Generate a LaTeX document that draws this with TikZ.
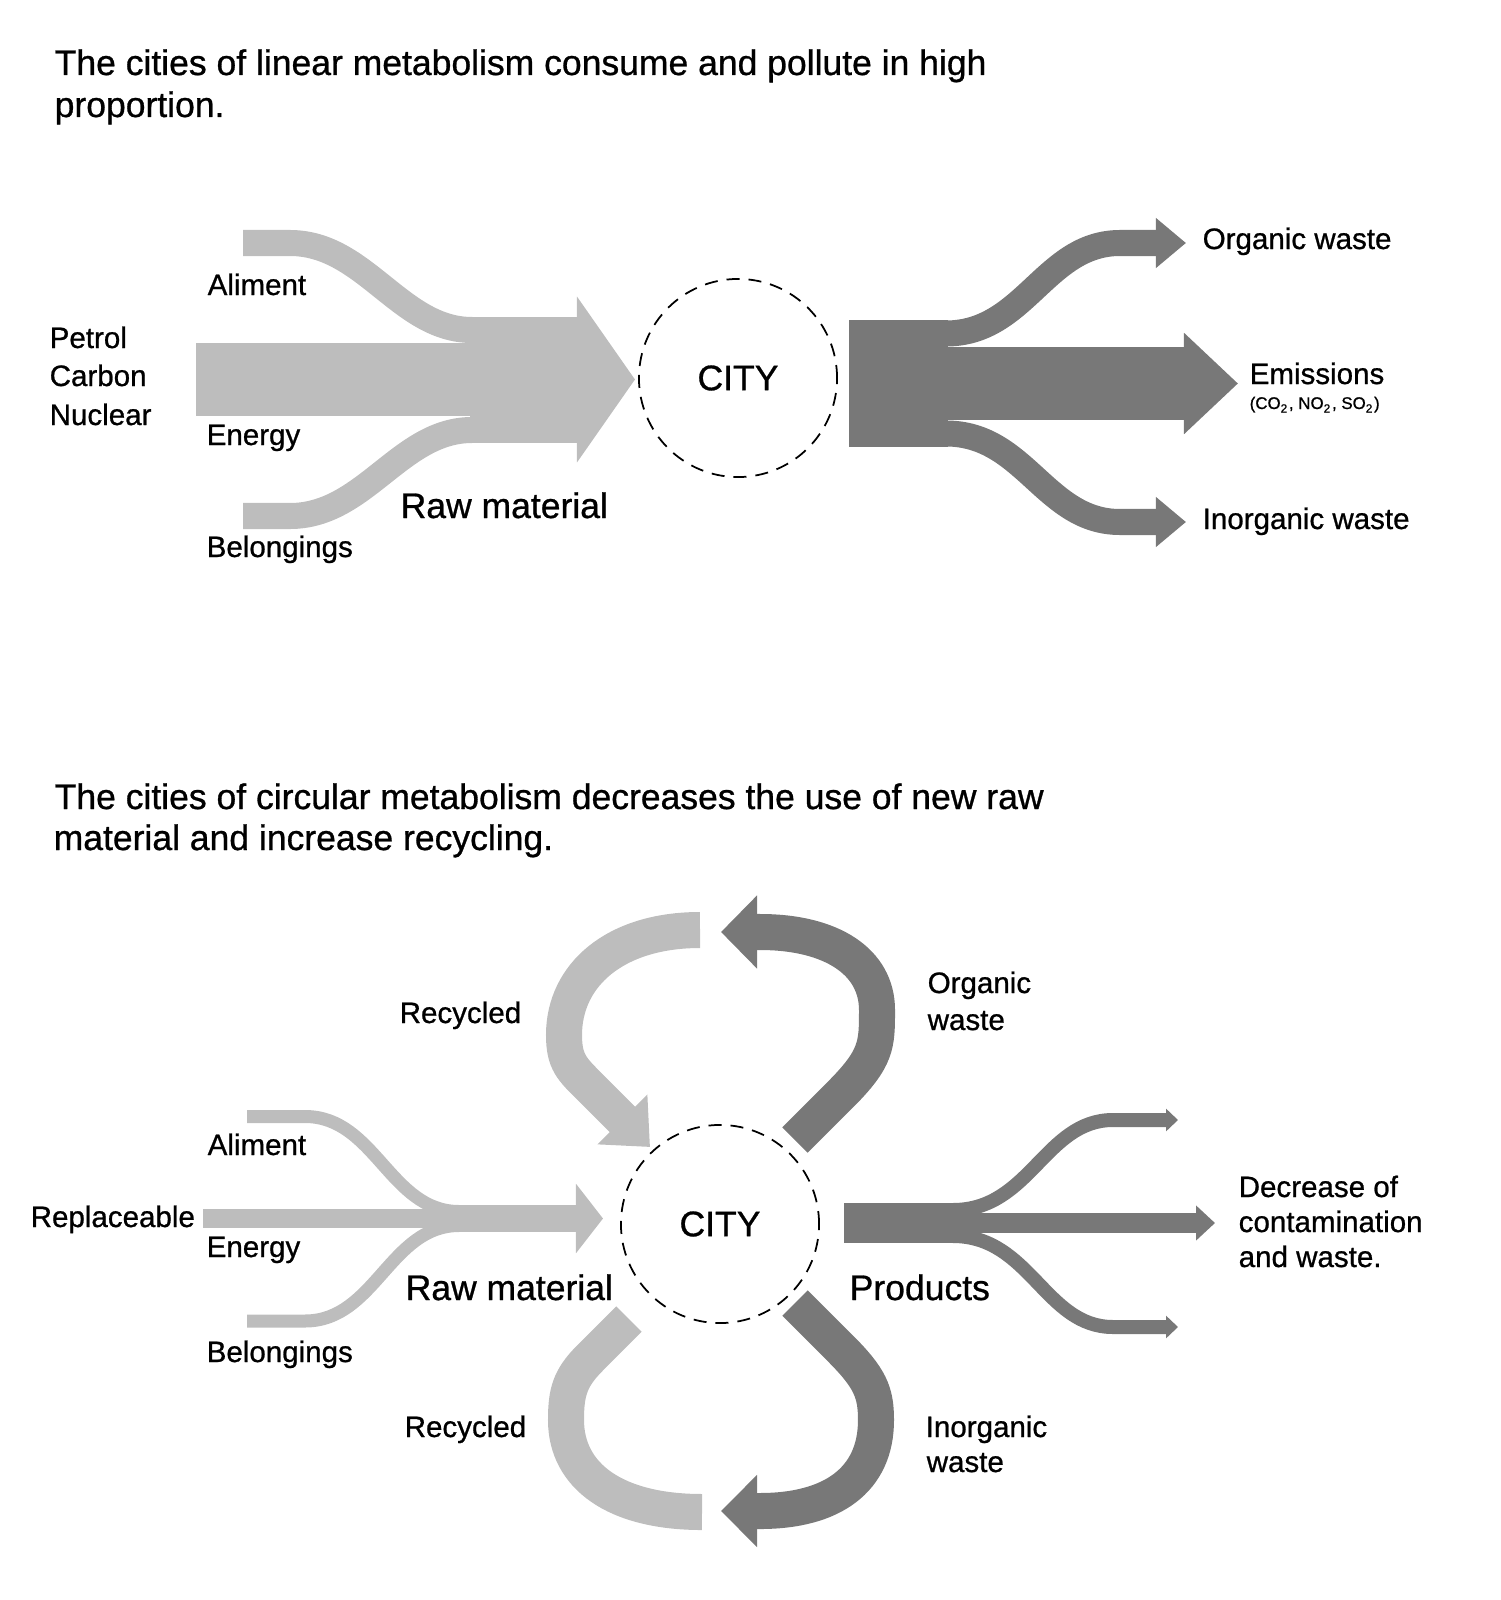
\documentclass[tikz,border=0pt]{standalone}
\usepackage{fontspec}
\setmainfont{Liberation Sans}[UprightFeatures={FakeBold=0.8}]
\usetikzlibrary{arrows.meta}

\definecolor{rawgray}{RGB}{189,189,189}
\definecolor{wastegray}{RGB}{120,120,120}
\newcommand{\bigsize}{\fontsize{10.1pt}{12pt}\selectfont}
\newcommand{\lblsize}{\fontsize{8.4pt}{10pt}\selectfont}
\newcommand{\gassize}{\fontsize{4.8pt}{6pt}\selectfont}

\tikzset{
  txt/.style={anchor=base west, inner sep=0pt, font=\lblsize},
  bigtxt/.style={anchor=base west, inner sep=0pt, font=\bigsize},
  city/.style={circle, draw, line width=0.5pt, dash pattern=on 0.13cm off 0.09cm,
    minimum size=1.98cm, inner sep=0pt, font=\bigsize},
  rawflow/.style={draw=rawgray, line width=#1},
  wasteflow/.style={draw=wastegray, line width=#1}
}

\begin{document}
\begin{tikzpicture}[x=0.01cm, y=-0.01cm]
\useasboundingbox (0,0) rectangle (1501,1600);

% linear metabolism
\node[bigtxt] (head1a) at (54,75) {The cities of linear metabolism consume and pollute in high};
\node[bigtxt] (head1b) at (54,117) {proportion.};

\node[city] (city1) at (738,378) {CITY};

\fill[rawgray] (470,317) rectangle (577,443);
\draw[rawflow=0.26cm] (243,243) -- (290,243) .. controls (365,243) and (400,330) .. (472,330);
\draw[rawflow=0.26cm] (243,516) -- (290,516) .. controls (365,516) and (400,430) .. (472,430);
\draw[rawflow=0.73cm, -{Triangle[width=1.63cm,length=0.58cm]}] (196,379.5) -- (635,379.5);

\fill[wastegray] (849,320) rectangle (948,447);
\draw[wasteflow=0.73cm, -{Triangle[width=0.98cm,length=0.54cm]}] (946,383.5) -- (1238,383.5);
\draw[wasteflow=0.26cm, -{Triangle[width=0.48cm,length=0.30cm]}]
  (946,333.5) .. controls (1025,333.5) and (1045,243) .. (1120,243) -- (1186,243);
\draw[wasteflow=0.26cm, -{Triangle[width=0.48cm,length=0.30cm]}]
  (946,433.5) .. controls (1025,433.5) and (1045,522) .. (1120,522) -- (1186,522);

\node[txt] (aliment1) at (207,295) {Aliment};
\node[txt] (petrol) at (49,348) {Petrol};
\node[txt] (carbon) at (49,386) {Carbon};
\node[txt] (nuclear) at (49,425) {Nuclear};
\node[txt] (energy1) at (206,445) {Energy};
\node[txt] (belong1) at (206,557) {Belongings};
\node[bigtxt] (raw1) at (400,518) {Raw material};
\node[txt] (organic1) at (1202,249) {Organic waste};
\node[txt] (emission) at (1249,384) {Emissions};
\node[anchor=base west, inner sep=0pt, font=\gassize] (gases) at (1249,409)
  {(CO\textsubscript{2}, NO\textsubscript{2}, SO\textsubscript{2})};
\node[txt] (inorganic1) at (1202,529) {Inorganic waste};

% circular metabolism
\node[bigtxt] (head2a) at (54,809) {The cities of circular metabolism decreases the use of new raw};
\node[bigtxt] (head2b) at (53,850) {material and increase recycling.};

\node[city] (city2) at (720,1224) {CITY};

\fill[rawgray] (457,1205) rectangle (577,1232);
\draw[rawflow=0.13cm] (247,1116.5) -- (305,1116.5) .. controls (375,1116.5) and (390,1211.5) .. (459,1211.5);
\draw[rawflow=0.13cm] (247,1321) -- (305,1321) .. controls (375,1321) and (390,1225.5) .. (459,1225.5);
\draw[rawflow=0.19cm, -{Triangle[width=0.68cm,length=0.27cm]}] (203,1218.5) -- (603,1218.5);

\fill[wastegray] (844,1203) rectangle (955,1243);
\draw[wasteflow=0.20cm, -{Triangle[width=0.34cm,length=0.19cm]}] (953,1223) -- (1215,1223);
\draw[wasteflow=0.14cm, -{Triangle[width=0.22cm,length=0.12cm]}]
  (953,1210) .. controls (1030,1210) and (1045,1120) .. (1113,1120) -- (1178,1120);
\draw[wasteflow=0.14cm, -{Triangle[width=0.22cm,length=0.12cm]}]
  (953,1236) .. controls (1030,1236) and (1045,1327) .. (1113,1327) -- (1178,1327);

% recycling loops
\draw[rawflow=0.36cm, -{Triangle[width=0.68cm,length=0.39cm]}]
  (700,930) .. controls (615,930) and (564,975) .. (564,1035)
  .. controls (564,1062) and (572,1069) .. (590,1087) -- (650,1147);
\draw[wasteflow=0.36cm, -{Triangle[width=0.71cm,length=0.36cm]}]
  (795,1140) -- (840,1095) .. controls (877,1058) and (877,1045) .. (877,1010)
  .. controls (877,962) and (832,932) .. (760,932) -- (721,932);
\draw[rawflow=0.36cm]
  (629,1319) -- (590,1358) .. controls (570,1378) and (566,1392) .. (566,1420)
  .. controls (566,1476) and (615,1512) .. (702,1512);
\draw[wasteflow=0.36cm, -{Triangle[width=0.70cm,length=0.36cm]}]
  (795,1303) -- (840,1348) .. controls (870,1378) and (876,1392) .. (876,1420)
  .. controls (876,1480) and (832,1511) .. (760,1511) -- (721,1511);

\node[txt] (aliment2) at (207,1155) {Aliment};
\node[txt] (replace) at (30,1227) {Replaceable};
\node[txt] (energy2) at (206,1257) {Energy};
\node[txt] (belong2) at (206,1362) {Belongings};
\node[bigtxt] (raw2) at (405,1300) {Raw material};
\node[bigtxt] (products) at (849,1300) {Products};
\node[txt] (recyc1) at (399,1023) {Recycled};
\node[txt] (recyc2) at (404,1437) {Recycled};
\node[txt] (organic2a) at (927,993) {Organic};
\node[txt] (organic2b) at (927,1030) {waste};
\node[txt] (inorganic2a) at (925,1437) {Inorganic};
\node[txt] (inorganic2b) at (926,1472) {waste};
\node[txt] (decrease1) at (1238,1197) {Decrease of};
\node[txt] (decrease2) at (1238,1232) {contamination};
\node[txt] (decrease3) at (1238,1267) {and waste.};
\end{tikzpicture}
\end{document}
